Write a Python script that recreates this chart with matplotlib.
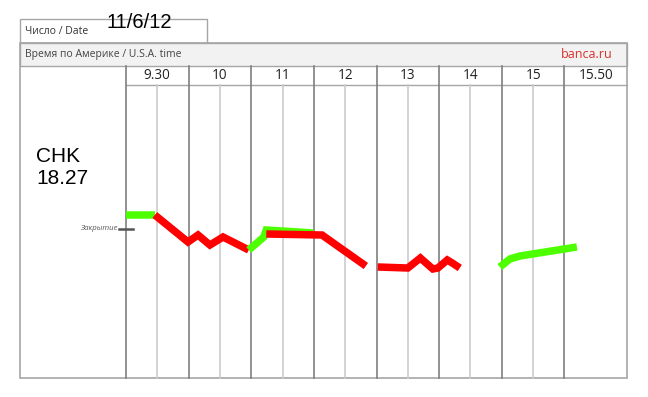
import matplotlib
matplotlib.use('Agg')
import matplotlib.pyplot as plt
from matplotlib.patches import Rectangle

# --------- data -------- #
ticker = 'CHK'
close_price = 18.27
date_label = '11/6/12'
col_labels = ['9.30', '10', '11', '12', '13', '14', '15', '15.50']

# x in column units (0 = start of 9.30 column), y = price
seg_colors = ['green', 'red', 'green', 'red', 'red', 'green']
seg_x = [
    [0.0, 0.46],
    [0.46, 0.99, 1.15, 1.34, 1.55, 1.96],
    [1.96, 2.20, 2.24, 2.99],
    [2.24, 3.13, 3.83],
    [4.02, 4.50, 4.70, 4.90, 4.98, 5.13, 5.21, 5.33],
    [5.97, 6.13, 6.29, 7.20],
]
seg_y = [
    [18.34, 18.34],
    [18.34, 18.205, 18.24, 18.19, 18.23, 18.165],
    [18.165, 18.23, 18.265, 18.25],
    [18.245, 18.24, 18.085],
    [18.08, 18.075, 18.125, 18.07, 18.075, 18.115, 18.10, 18.075],
    [18.08, 18.12, 18.135, 18.18],
]
# --------- data -------- #

W, H = 648, 397
fig = plt.figure(figsize=(W / 100, H / 100), dpi=100)
bg = fig.add_axes([0, 0, 1, 1])
bg.set_xlim(0, W)
bg.set_ylim(H, 0)
bg.axis('off')

frame = '#a6a6a6'
left, right, top, bottom = 20, 627, 43, 378
grid_l, row_y, hdr_y = 126, 85, 66
colw = (right - grid_l) / len(col_labels)

# template frame
bg.add_patch(Rectangle((left, 19), 187, top - 19, fill=False, ec=frame, lw=1))
bg.add_patch(Rectangle((left, top), right - left, hdr_y - top, fc='#f2f2f2', ec=frame, lw=1))
bg.add_patch(Rectangle((left, top), right - left, bottom - top, fill=False, ec=frame, lw=1.2))
bg.plot([grid_l, right], [row_y, row_y], color=frame, lw=1)
for i in range(len(col_labels)):
    x0 = grid_l + i * colw
    bg.plot([x0, x0], [hdr_y, bottom], color='#7f7f7f', lw=1.2)
    if i < len(col_labels) - 1:
        bg.plot([x0 + colw / 2] * 2, [row_y, bottom], color='#cccccc', lw=1.2)
    bg.text(x0 + colw / 2, 75.5, col_labels[i], ha='center', va='center',
            fontsize=9.8, family='Open Sans', color='#222222')

bg.text(25, 31, 'Число / Date', va='center', fontsize=7.5, family='Open Sans', color='#333333')
bg.text(107, 23, date_label, va='center', fontsize=14.5, family='Liberation Sans', color='black')
bg.text(25, 54.5, 'Время по Америке / U.S.A. time', va='center', fontsize=7.5,
        family='Open Sans', color='#444444')
bg.text(613, 54.5, 'banca.ru', va='center', ha='right', fontsize=9, family='Open Sans',
        color='#d9302a')
bg.text(36, 156, ticker, va='center', fontsize=15, family='Liberation Sans')
bg.text(36, 179, f'{close_price:.2f}', va='center', fontsize=15, family='Liberation Sans')

# price axes
ax = fig.add_axes([grid_l / W, (H - bottom) / H, (right - grid_l) / W, (bottom - row_y) / H])
ax.patch.set_alpha(0)
ax.set_xlim(0, len(col_labels))
ax.set_ylim(17.525, 18.99)
ax.axis('off')

palette = {'green': '#4dff00', 'red': '#ff0000'}
for c, xs, ys in zip(seg_colors, seg_x, seg_y):
    ax.plot(xs, ys, color=palette[c], lw=5.4, solid_capstyle='butt', solid_joinstyle='miter')

ax.plot([-0.11, 0.11], [close_price, close_price], color='#555555', lw=1.8, clip_on=False)
ax.text(-0.14, close_price, 'Закрытие', ha='right', va='center', fontsize=5.6,
        style='italic', family='Open Sans', color='#555555')

fig.savefig('out.png', dpi=100)
